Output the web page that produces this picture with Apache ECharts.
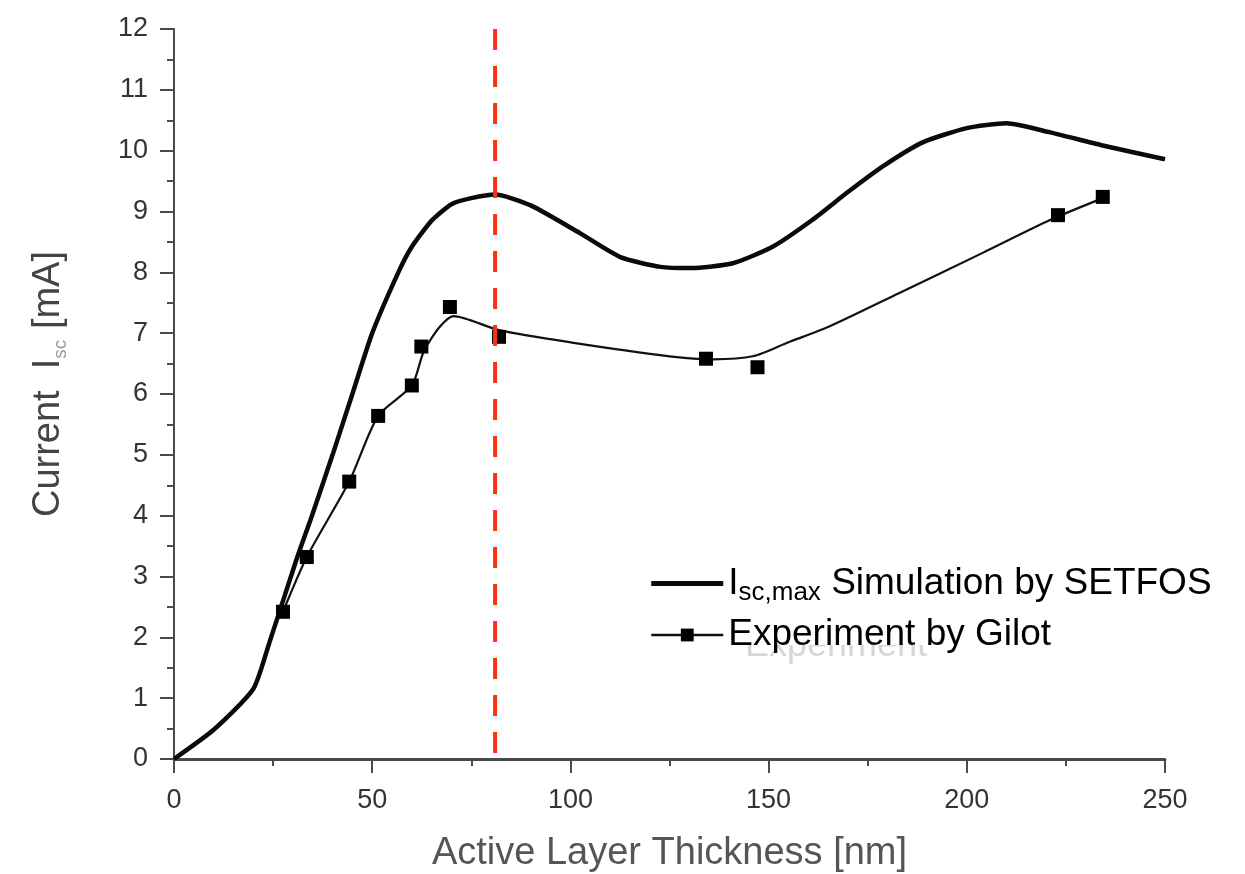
<!DOCTYPE html>
<html>
<head>
<meta charset="utf-8">
<title>Short-circuit current vs. active layer thickness</title>
<script src="https://cdn.jsdelivr.net/npm/echarts@6/dist/echarts.min.js"></script>
<style>
  html, body { margin: 0; padding: 0; background: #fff; }
  #chart { width: 1245px; height: 874px; }
</style>
</head>
<body>
<div id="chart"></div>
<script>
// Simulated maximum short-circuit current (SETFOS), thickness in nm, current in mA
const simThickness = [0, 10, 20, 24, 31, 34.8, 40, 45, 50, 56.6, 60, 65, 70, 75, 81, 90, 102.5, 112.6, 122.7, 130.3, 141, 151, 161, 170, 179, 189, 200, 210, 221, 234, 250];
const simCurrent   = [0, 0.48, 1.15, 1.9, 3.3, 4.0, 5.0, 6.0, 7.0, 8.0, 8.42, 8.85, 9.12, 9.22, 9.28, 9.1, 8.64, 8.25, 8.09, 8.07, 8.15, 8.42, 8.86, 9.32, 9.75, 10.14, 10.37, 10.45, 10.3, 10.09, 9.86];

// Measured devices (Gilot)
const expThickness = [27.5, 33.5, 44.2, 51.5, 60, 62.4, 69.6, 82, 134.2, 147.2, 223, 234.3];
const expCurrent   = [2.42, 3.32, 4.56, 5.64, 6.14, 6.78, 7.43, 6.94, 6.58, 6.44, 8.94, 9.24];

// Guide curve drawn through the measurements
const fitThickness = [27.5, 33.5, 44.2, 51.5, 60, 63, 67, 70.5, 82, 100, 125, 136, 146, 155, 165, 183, 204, 221, 234.3];
const fitCurrent   = [2.42, 3.32, 4.56, 5.64, 6.14, 6.7, 7.1, 7.28, 7.05, 6.85, 6.62, 6.57, 6.62, 6.85, 7.1, 7.66, 8.32, 8.86, 9.22];

// Optimum thickness marker
const optimumThickness = 81;

const xRange = [0, 250];
const yRange = [0, 12];

const SIM_NAME = 'Isc,max Simulation by SETFOS';
const EXP_NAME = 'Experiment by Gilot';

const pairs = (xs, ys) => xs.map((x, i) => [x, ys[i]]);

const FONT = '"Liberation Sans", Arial, Helvetica, sans-serif';
const AXIS_COLOR = '#4a4a4a';

const chart = echarts.init(document.getElementById('chart'));

chart.setOption({
  backgroundColor: '#ffffff',
  animation: false,
  grid: { left: 174, right: 80, top: 29, bottom: 115, containLabel: false, outerBoundsMode: 'none' },
  graphic: [
    {
      // faint leftover caption under the legend
      type: 'text',
      left: 745,
      top: 628,
      z: 0,
      style: { text: 'Experiment', fontFamily: FONT, fontSize: 36, fill: '#d6d6d6' }
    },
    {
      type: 'rect',
      left: 738,
      top: 600,
      z: 1,
      shape: { width: 200, height: 45 },
      style: { fill: '#ffffff' }
    }
  ],
  legend: {
    data: [
      { name: SIM_NAME, icon: 'path://M0,0 L72,0 L72,5 L0,5 Z' },
      { name: EXP_NAME, lineStyle: { width: 2.5, color: '#111' } }
    ],
    orient: 'vertical',
    left: 650,
    top: 565,
    itemWidth: 72,
    itemHeight: 16,
    itemGap: 11,
    padding: 0,
    z: 10,
    formatter: function (name) {
      if (name === SIM_NAME) {
        return '{b|I}{s|sc,max}{b| Simulation by SETFOS}';
      }
      return '{b|' + name + '}';
    },
    textStyle: {
      fontFamily: FONT,
      rich: {
        b: { fontSize: 37, color: '#000', fontFamily: FONT, lineHeight: 44 },
        s: { fontSize: 26, color: '#000', fontFamily: FONT, lineHeight: 44, verticalAlign: 'bottom', padding: [14, 0, 0, 0] }
      }
    }
  },
  xAxis: {
    type: 'value',
    min: xRange[0],
    max: xRange[1],
    interval: 50,
    name: 'Active Layer Thickness [nm]',
    nameLocation: 'middle',
    nameGap: 76,
    nameTextStyle: { fontFamily: FONT, fontSize: 38, color: '#555' },
    axisLine: { show: true, onZero: false, lineStyle: { color: AXIS_COLOR, width: 3 } },
    axisTick: { show: true, inside: false, length: 14, lineStyle: { color: AXIS_COLOR, width: 2 } },
    minorTick: { show: true, splitNumber: 2, length: 7, lineStyle: { color: AXIS_COLOR, width: 2 } },
    axisLabel: { fontFamily: FONT, fontSize: 27, color: '#333', margin: 28 },
    splitLine: { show: false }
  },
  yAxis: {
    type: 'value',
    min: yRange[0],
    max: yRange[1],
    interval: 1,
    name: '{n|Current  I}{s|sc}{n| [mA]}',
    nameLocation: 'middle',
    nameGap: 104,
    nameRotate: 90,
    nameTextStyle: {
      fontFamily: FONT,
      padding: [0, 0, 0, 20],
      rich: {
        n: { fontSize: 38, color: '#444', fontFamily: FONT, lineHeight: 42 },
        s: { fontSize: 19, color: '#999', fontFamily: FONT, lineHeight: 42, verticalAlign: 'bottom' }
      }
    },
    axisLine: { show: true, lineStyle: { color: AXIS_COLOR, width: 2 } },
    axisTick: { show: true, inside: false, length: 14, lineStyle: { color: AXIS_COLOR, width: 2 } },
    minorTick: { show: true, splitNumber: 2, length: 7, lineStyle: { color: AXIS_COLOR, width: 2 } },
    axisLabel: { fontFamily: FONT, fontSize: 27, color: '#333', margin: 26 },
    splitLine: { show: false }
  },
  series: [
    {
      name: SIM_NAME,
      type: 'line',
      data: pairs(simThickness, simCurrent),
      smooth: 0.2,
      symbol: 'none',
      lineStyle: { color: '#0a0a0a', width: 4.5 },
      itemStyle: { color: '#0a0a0a' },
      z: 3
    },
    {
      name: EXP_NAME,
      type: 'line',
      data: pairs(fitThickness, fitCurrent),
      smooth: 0.25,
      symbol: 'rect',
      symbolSize: 14,
      showSymbol: false,
      lineStyle: { color: '#111', width: 2.2 },
      itemStyle: { color: '#000' },
      z: 3
    },
    {
      name: 'measured',
      type: 'scatter',
      data: pairs(expThickness, expCurrent),
      symbol: 'rect',
      symbolSize: 14,
      itemStyle: { color: '#000', opacity: 1 },
      z: 4
    },
    {
      name: 'optimum',
      type: 'line',
      data: [[optimumThickness, yRange[1]], [optimumThickness, yRange[0]]],
      symbol: 'none',
      lineStyle: { color: '#fa3210', width: 4, type: [21, 16] },
      z: 5
    }
  ]
});
</script>
</body>
</html>
